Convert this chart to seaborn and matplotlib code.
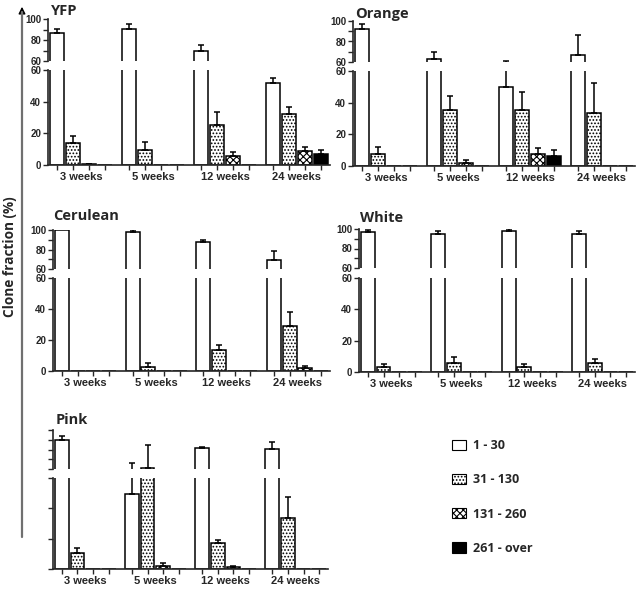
import numpy as np
import pandas as pd
import matplotlib
matplotlib.use("Agg")
import matplotlib.pyplot as plt
import seaborn as sns
from matplotlib.patches import Patch, FancyArrowPatch
from matplotlib.lines import Line2D
from matplotlib.container import BarContainer

# ---------------- data ----------------
weeks = ["3 weeks", "5 weeks", "12 weeks", "24 weeks"]
sizes = ["1 - 30", "31 - 130", "131 - 260", "261 - over"]

# rows: size classes (1-30, 31-130, 131-260, 261-over); columns: weeks
yfp_mean = [[86.2, 90.4, 69.6, 51.6], [13.7, 9.3, 25.3, 32.0], [0.4, 0.0, 5.7, 8.8], [0.0, 0.0, 0.0, 6.7]]
yfp_err = [[4.2, 5.1, 6.1, 3.1], [4.4, 5.2, 8.0, 4.8], [0.3, 0.0, 2.3, 2.4], [0.0, 0.0, 0.0, 2.6]]

orange_mean = [[92.2, 63.3, 49.6, 67.2], [7.8, 35.3, 35.5, 33.2], [0.0, 2.1, 7.8, 0.0], [0.0, 0.0, 6.5, 0.0]]
orange_err = [[4.5, 6.8, 11.7, 19.1], [4.2, 8.6, 11.2, 19.4], [0.0, 1.9, 3.8, 0.0], [0.0, 0.0, 3.9, 0.0]]

cerulean_mean = [[100.0, 98.3, 87.4, 69.2], [0.0, 2.6, 13.6, 29.2], [0.0, 0.0, 0.0, 1.9], [0.0, 0.0, 0.0, 0.0]]
cerulean_err = [[0.0, 1.2, 2.7, 9.3], [0.0, 2.6, 2.9, 8.7], [0.0, 0.0, 0.0, 1.3], [0.0, 0.0, 0.0, 0.0]]

white_mean = [[97.3, 95.0, 97.6, 95.0], [3.0, 6.0, 3.0, 5.6], [0.0, 0.0, 0.0, 0.0], [0.0, 0.0, 0.0, 0.0]]
white_err = [[2.0, 3.3, 2.1, 3.0], [2.1, 3.4, 1.9, 2.5], [0.0, 0.0, 0.0, 0.0], [0.0, 0.0, 0.0, 0.0]]

pink_mean = [[89.7, 49.2, 81.5, 80.5], [10.3, 61.0, 17.4, 33.8], [0.0, 2.2, 1.1, 0.0], [0.0, 0.0, 0.0, 0.0]]
pink_err = [[4.3, 16.6, 1.4, 6.9], [3.5, 24.0, 1.9, 13.5], [0.0, 2.0, 1.1, 0.0], [0.0, 0.0, 0.0, 0.0]]

# ---------------- style ----------------
sns.set_style("ticks")
plt.rcParams["font.family"] = ["Open Sans", "DejaVu Sans"]
plt.rcParams["hatch.linewidth"] = 0.8

W, H = 644, 594
fig = plt.figure(figsize=(W / 100, H / 100), dpi=100)

palette = {"1 - 30": "white", "31 - 130": "white", "131 - 260": "white", "261 - over": "black"}
hatches = ["", ".....", "xxxxx", ""]
TICKFONT = dict(family=["Liberation Sans", "DejaVu Sans"], weight="bold")


def px_axes(l, t, r, b):
    return fig.add_axes([l / W, 1 - b / H, (r - l) / W, (b - t) / H])


def draw_panel(title, means, errs, box, title_pos, labels=True):
    left, right, y100, y60a, y60b, y0 = box
    ax_top = px_axes(left, y100, right, y60a)
    ax_bot = px_axes(left, y60b, right, y0)
    df = pd.DataFrame(
        [(w, s, means[i][j]) for i, s in enumerate(sizes) for j, w in enumerate(weeks)],
        columns=["week", "size", "value"],
    )
    centers = []
    for ax, (lo, hi) in [(ax_top, (60, 100)), (ax_bot, (0, 60))]:
        sns.barplot(data=df, x="week", y="value", hue="size", order=weeks, hue_order=sizes,
                    palette=palette, width=0.89, gap=0.12, errorbar=None, saturation=1,
                    edgecolor="black", linewidth=1.1, legend=False, ax=ax)
        bars = [c for c in ax.containers if isinstance(c, BarContainer)]
        for i, cont in enumerate(bars):
            for j, p in enumerate(cont.patches):
                p.set_hatch(hatches[i])
                xc = p.get_x() + p.get_width() / 2
                if ax is ax_bot:
                    centers.append(xc)
                if errs[i][j] > 0:
                    ax.errorbar(xc, means[i][j], yerr=[[0], [errs[i][j]]], fmt="none",
                                ecolor="black", elinewidth=1.1, capsize=2.5, capthick=1.1)
        ax.set_ylim(lo, hi)
        ax.set_xlim(-0.46, 3.46)
        ax.set_xlabel("")
        ax.set_ylabel("")
        for s in ["top", "right"]:
            ax.spines[s].set_visible(False)
        ax.spines["left"].set_linewidth(1.2)
        ax.spines["bottom"].set_linewidth(1.2)
        ax.tick_params(axis="y", length=3.5, width=1, pad=1.5)
    # top axis
    ax_top.spines["bottom"].set_visible(False)
    ax_top.set_xticks([])
    ax_top.set_yticks([60, 70, 80, 90, 100])
    ax_top.set_yticklabels(["60", "", "80", "", "100"] if labels else [""] * 5, **TICKFONT, fontsize=7)
    # bottom axis
    ax_bot.set_yticks([0, 20, 40, 60])
    ax_bot.set_yticklabels(["0", "20", "40", "60"] if labels else [""] * 4, **TICKFONT, fontsize=7)
    ax_bot.set_xticks(range(len(weeks)))
    ax_bot.set_xticklabels(weeks, **TICKFONT, fontsize=8)
    ax_bot.tick_params(axis="x", which="major", length=0, pad=5)
    ax_bot.set_xticks(centers, minor=True)
    ax_bot.tick_params(axis="x", which="minor", length=3.5, width=1, direction="out")
    fig.text(title_pos[0] / W, 1 - title_pos[1] / H, title, fontsize=10.5, fontweight="bold",
             ha="left", va="baseline")


draw_panel("YFP", yfp_mean, yfp_err, (48, 330, 19, 61, 70, 165), (51, 15))
draw_panel("Orange", orange_mean, orange_err, (353, 635, 21, 62, 71, 166), (355, 18))
draw_panel("Cerulean", cerulean_mean, cerulean_err, (53, 330, 230, 269, 278, 371), (53, 220))
draw_panel("White", white_mean, white_err, (359, 635, 229, 268, 278, 372), (360, 222))
draw_panel("Pink", pink_mean, pink_err, (53, 328, 430, 469, 478, 569), (56, 424), labels=False)

# y label and arrow
fig.text(10 / W, 1 - 257 / H, "Clone fraction (%)", rotation=90, ha="center", va="center",
         fontsize=9.8, fontweight="bold")
fig.add_artist(Line2D([22 / W, 22 / W], [1 - 537 / H, 1 - 12 / H], color="#707070", lw=1.6,
                      transform=fig.transFigure))
fig.add_artist(FancyArrowPatch((22 / W, 1 - 14 / H), (22 / W, 1 - 4 / H),
                               transform=fig.transFigure, arrowstyle="-|>",
                               mutation_scale=10, color="black", lw=1))

# legend
handles = [Patch(facecolor=palette[s], edgecolor="black", hatch=hatches[i],
                 linewidth=0.8, label=s) for i, s in enumerate(sizes)]
fig.legend(handles=handles, loc="upper left", bbox_to_anchor=(452 / W, 1 - 439 / H), frameon=False,
           borderpad=0, borderaxespad=0, labelspacing=1.7, handlelength=1.15, handleheight=0.9,
           handletextpad=0.5, prop=dict(family=["Open Sans", "DejaVu Sans"], weight="bold", size=9))

fig.savefig("out.png", dpi=100)
